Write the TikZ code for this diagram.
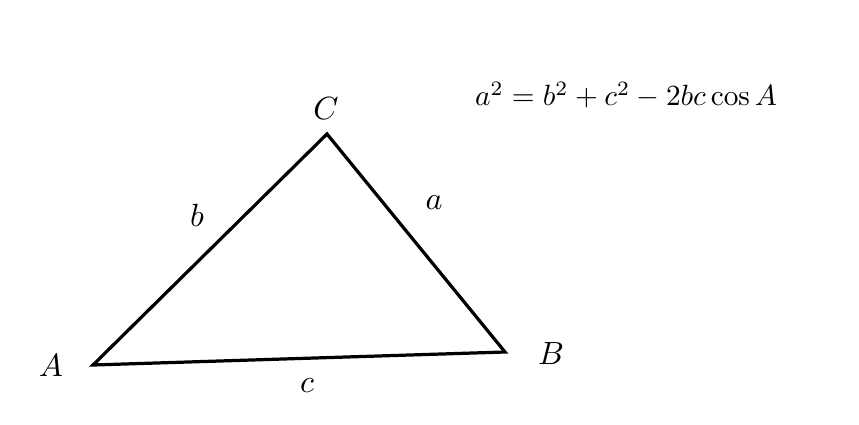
\documentclass[tikz,border=0pt]{standalone}
\usepackage{amsmath, latexsym}
\usepackage{tikz}

\begin{document}
\begin{tikzpicture}[x=0.012cm, y=-0.012cm]
        \useasboundingbox (0, 0) rectangle (859, 425);
        \coordinate (A) at (93, 365);
        \coordinate (B) at (505, 352);
        \coordinate (C) at (327, 134);
        \draw [line width=1.1pt, line join=miter] (A) -- (B) -- (C) -- cycle;
        \draw (51, 366) node (labA) {\fontsize{10.5}{12}\selectfont $A$};
        \draw (551, 354) node (labB) {\fontsize{10.5}{12}\selectfont $B$};
        \draw (326, 109) node (labC) {\fontsize{10.5}{12}\selectfont $C$};
        \draw (197, 215) node (laba) {\fontsize{10.5}{12}\selectfont $b$};
        \draw (434, 203) node (labb) {\fontsize{10.5}{12}\selectfont $a$};
        \draw (307, 386) node (labc) {\fontsize{10.5}{12}\selectfont $c$};
        \draw (626, 95) node (law) {\fontsize{10.1}{12}\selectfont $a^2 = b^2 + c^2 - 2bc\cos A$};
    \end{tikzpicture}
\end{document}
